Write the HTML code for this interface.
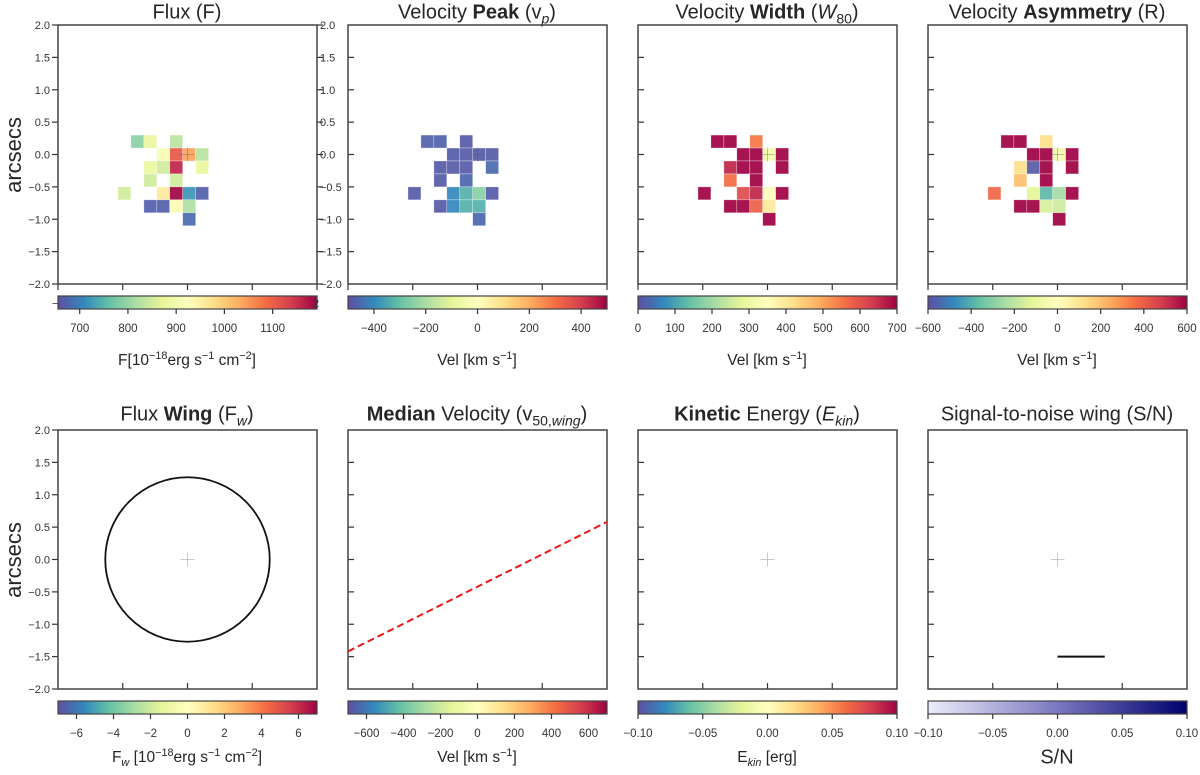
<!DOCTYPE html>
<html><head><meta charset="utf-8">
<style>
body{margin:0;background:#fff;font-family:"Liberation Sans","DejaVu Sans",sans-serif;}
#wrap{position:relative;width:1200px;height:775px;overflow:hidden;}
.t{position:absolute;white-space:nowrap;color:#262626;}
.title{font-size:20px;transform:translate(-50%,-50%);}
.cbl{font-size:15.5px;transform:translate(-50%,-50%);}
sub,sup{font-size:70%;line-height:0;}
svg{position:absolute;left:0;top:0;}
svg text{font-family:"Liberation Sans","DejaVu Sans",sans-serif;}
</style></head><body>
<div id="wrap">
<svg id="svg" width="1200" height="775">
<defs>
<linearGradient id="spec" x1="0" x2="1" y1="0" y2="0">
<stop offset="0" stop-color="#5e4fa2"/><stop offset="0.1" stop-color="#3288bd"/><stop offset="0.2" stop-color="#66c2a5"/><stop offset="0.3" stop-color="#abdda4"/><stop offset="0.4" stop-color="#e6f598"/><stop offset="0.5" stop-color="#ffffbf"/><stop offset="0.6" stop-color="#fee08b"/><stop offset="0.7" stop-color="#fdae61"/><stop offset="0.8" stop-color="#f46d43"/><stop offset="0.9" stop-color="#d53e4f"/><stop offset="1" stop-color="#9e0142"/>
</linearGradient>
<linearGradient id="purp" x1="0" x2="1" y1="0" y2="0">
<stop offset="0" stop-color="#ececfa"/><stop offset="0.5" stop-color="#7a78c0"/><stop offset="1" stop-color="#00006e"/>
</linearGradient>
</defs>
</svg>
<div class="t title" style="left:187px;top:13px">Flux (F)</div>
<div class="t title" style="left:477px;top:13px">Velocity <b>Peak</b> (v<sub><i>p</i></sub>)</div>
<div class="t title" style="left:767px;top:13px">Velocity <b>Width</b> (<i>W</i><sub>80</sub>)</div>
<div class="t title" style="left:1057px;top:13px">Velocity <b>Asymmetry</b> (R)</div>
<div class="t title" style="left:187px;top:415px">Flux <b>Wing</b> (F<sub><i>w</i></sub>)</div>
<div class="t title" style="left:477px;top:415px"><b>Median</b> Velocity (v<sub>50,<i>wing</i></sub>)</div>
<div class="t title" style="left:767px;top:415px"><b>Kinetic</b> Energy (<i>E<sub>kin</sub></i>)</div>
<div class="t title" style="left:1057px;top:415px">Signal-to-noise wing (S/N)</div>
<div class="t cbl" style="left:187px;top:361px">F[10<sup>−18</sup>erg s<sup>−1</sup> cm<sup>−2</sup>]</div>
<div class="t cbl" style="left:477px;top:361px">Vel [km s<sup>−1</sup>]</div>
<div class="t cbl" style="left:767px;top:361px">Vel [km s<sup>−1</sup>]</div>
<div class="t cbl" style="left:1057px;top:361px">Vel [km s<sup>−1</sup>]</div>
<div class="t cbl" style="left:187px;top:758px">F<sub><i>w</i></sub> [10<sup>−18</sup>erg s<sup>−1</sup> cm<sup>−2</sup>]</div>
<div class="t cbl" style="left:477px;top:758px">Vel [km s<sup>−1</sup>]</div>
<div class="t cbl" style="left:767px;top:758px">E<sub><i>kin</i></sub> [erg]</div>
<div class="t cbl" style="left:1057px;top:758px;font-size:20px">S/N</div>
<div class="t" style="left:14px;top:155px;font-size:22px;transform:translate(-50%,-50%) rotate(-90deg)">arcsecs</div>
<div class="t" style="left:14px;top:560px;font-size:22px;transform:translate(-50%,-50%) rotate(-90deg)">arcsecs</div>
</div>
<script>
// ---- data ----
const fluxCols = [-4,-3,-1, -2,-1,0,1, -3,-2,-1,1, -3,-1, -5,-2,-1,0,1, -3,-2,-1,0, 0];
const fluxRows = [1,1,1, 0,0,0,0, -1,-1,-1,-1, -2,-2, -3,-3,-3,-3,-3, -4,-4,-4,-4, -5];
const fluxValues = [790,880,830, 910,1110,1040,830, 880,850,1160,880, 850,850, 850,960,1190,720,670, 670,670,910,820, 680];
const vpCols = [-4,-3,-1, -2,-1,0,1, -3,-2,-1,1, -3,-1, -5,-2,-1,0,1, -3,-2,-1,0, 0];
const vpRows = [1,1,1, 0,0,0,0, -1,-1,-1,-1, -2,-2, -3,-3,-3,-3,-3, -4,-4,-4,-4, -5];
const vpValues = [-465,-465,-480, -480,-480,-480,-480, -480,-480,-480,-455, -480,-460, -480,-400,-330,-250,-480, -480,-400,-330,-330, -460];
const w80Cols = [-4,-3,-1, -2,-1,0,1, -3,-2,-1,1, -3,-1, -5,-2,-1,0,1, -3,-2,-1,0, 0];
const w80Rows = [1,1,1, 0,0,0,0, -1,-1,-1,-1, -2,-2, -3,-3,-3,-3,-3, -4,-4,-4,-4, -5];
const w80Values = [700,700,550, 700,700,320,700, 660,700,700,700, 560,700, 700,610,660,340,700, 700,700,580,400, 700];
const rCols = [-4,-3,-1, -2,-1,0,1, -3,-2,-1,1, -3,-1, -5,-2,-1,0,1, -3,-2,-1,0, 0];
const rRows = [1,1,1, 0,0,0,0, -1,-1,-1,-1, -2,-2, -3,-3,-3,-3,-3, -4,-4,-4,-4, -5];
const rValues = [600,600,120, 600,600,-60,600, 120,-580,600,600, 200,600, 380,-120,-380,-250,600, 600,600,-150,-170, 600];
const yTicks = [2.0,1.5,1.0,0.5,0.0,-0.5,-1.0,-1.5,-2.0];
const xTicks = [-1,0,1];
const fluxCbTicks = [700,800,900,1000,1100];
const vpCbTicks = [-400,-200,0,200,400];
const w80CbTicks = [0,100,200,300,400,500,600,700];
const rCbTicks = [-600,-400,-200,0,200,400,600];
const fwCbTicks = [-6,-4,-2,0,2,4,6];
const v50CbTicks = [-600,-400,-200,0,200,400,600];
const ekinCbTicks = [-0.10,-0.05,0.00,0.05,0.10];
const snCbTicks = [-0.10,-0.05,0.00,0.05,0.10];
const circleRadius = [1.27];
const dashLineX = [-2, 2];
const dashLineY = [-1.42, 0.58];
const snLineX = [0, 0.73];
const snLineY = [-1.5, -1.5];

// ---- rendering ----
const NS='http://www.w3.org/2000/svg';
const svg=document.getElementById('svg');
const lefts=[58,348,638,928], W=259, H=259, tops=[25,430];
const specStops=[[94,79,162],[50,136,189],[102,194,165],[171,221,164],[230,245,152],[255,255,191],[254,224,139],[253,174,97],[244,109,67],[213,62,79],[158,1,66]];
function spectral(t){t=Math.max(0,Math.min(1,t));const p=t*10,i=Math.min(9,Math.floor(p)),f=p-i;const a=specStops[i],b=specStops[i+1];return 'rgb('+a.map((v,k)=>Math.round(v+(b[k]-v)*f)).join(',')+')';}
function el(tag,attrs,parent){const e=document.createElementNS(NS,tag);for(const k in attrs)e.setAttribute(k,attrs[k]);(parent||svg).appendChild(e);return e;}
function xs(p,v){return lefts[p%4]+(v+2)/4*W;}
function ys(row,v){return tops[row]+(2-v)/4*H;}
function fmt(v,d){return (v<0?'−':'')+Math.abs(v).toFixed(d);}

function axes(idx,row){
  const L=lefts[idx],T=tops[row];
  for(const t of yTicks){
    const y=ys(row,t);
    let tk;
    if(idx===0){tk=el('line',{x1:L-6,x2:L,y1:y,y2:y,stroke:'#333','stroke-width':1.2});
      const tx=el('text',{x:L-8,y:y+4,'font-size':11,'text-anchor':'end',fill:'#333'});tx.textContent=fmt(t,1);
      
      
      if(row===0){el('line',{x1:L+W,x2:L+W+6,y1:y,y2:y,stroke:'#333','stroke-width':1.2});
        const t2=el('text',{x:L+W+3,y:y+4,'font-size':11,fill:'#333'});t2.textContent=fmt(t,1);
        
        }
    } else if(t<2 && t>-2){tk=el('line',{x1:L,x2:L+6,y1:y,y2:y,stroke:'#333','stroke-width':1.2});}
    if(tk){
      }
  }
  for(const t of xTicks){const x=xs(idx,t);
    const tk=row===0?el('line',{x1:x,x2:x,y1:T+H,y2:T+H+6,stroke:'#333','stroke-width':1.2}):el('line',{x1:x,x2:x,y1:T+H-6,y2:T+H,stroke:'#333','stroke-width':1.2});
    
    }
  if(row===0){for(const x of [L,L+W]){el('line',{x1:x,x2:x,y1:T+H,y2:T+H+6,stroke:'#333','stroke-width':1.2});}}
}
function frame(idx,row,name){const r=el('rect',{x:lefts[idx],y:tops[row],width:W,height:H,fill:'none',stroke:'#444','stroke-width':1.5});
  
  }
function cells(idx,cols,rows,vals,vmin,vmax,name){
  for(let i=0;i<vals.length;i++){
    const x0=(cols[i]-0.37)*0.2, y1=rows[i]*0.2+0.1;
    const r=el('rect',{x:xs(idx,x0),y:ys(0,y1),width:W*0.05,height:H*0.05,fill:spectral((vals[i]-vmin)/(vmax-vmin)),'fill-opacity':0.92,stroke:'rgba(255,255,255,0.5)','stroke-width':0.6});
    
    
  }
}
function cross(idx,row,col,op){const x=xs(idx,0),y=ys(row,0);
  el('line',{x1:x-7,x2:x+7,y1:y,y2:y,stroke:col,'stroke-opacity':op,'stroke-width':1});
  const c=el('line',{x1:x,x2:x,y1:y-7,y2:y+7,stroke:col,'stroke-opacity':op,'stroke-width':1});
  
  }
function colorbar(idx,row,vmin,vmax,ticks,dec,grad,name){
  const L=lefts[idx],y=row===0?296:701;
  const r=el('rect',{x:L,y:y,width:W,height:13,fill:'url(#'+grad+')',stroke:'#444','stroke-width':1.2});
  
  
  for(const t of ticks){const x=L+(t-vmin)/(vmax-vmin)*W;
    el('line',{x1:x,x2:x,y1:y+13,y2:y+18,stroke:'#333','stroke-width':1.2});
    const tx=el('text',{x:x,y:y+36,'font-size':11.5,'text-anchor':'middle',fill:'#333'});tx.textContent=dec>0?fmt(t,dec):(t<0?'−'+Math.abs(t):String(t));
    
    }
}
// top row
cells(0,fluxCols,fluxRows,fluxValues,655,1192,'flux');
cells(1,vpCols,vpRows,vpValues,-500,500,'vp');
cells(2,w80Cols,w80Rows,w80Values,0,700,'w80');
cells(3,rCols,rRows,rValues,-600,600,'r');
for(let i=0;i<4;i++){cross(i,0,'#555',0.35);}
const names=['flux-panel','velocity-peak-panel','velocity-width-panel','velocity-asymmetry-panel','flux-wing-panel','median-velocity-panel','kinetic-energy-panel','signal-to-noise-panel'];
for(let i=0;i<4;i++){axes(i,0);frame(i,0,names[i]);axes(i,1);frame(i,1,names[4+i]);}
colorbar(0,0,655,1192,fluxCbTicks,0,'spec','flux-colorbar');
const m1=el('text',{x:52,y:307,'font-size':11,fill:'#333'});m1.textContent='−';
const m2=el('text',{x:313,y:307,'font-size':11,fill:'#333'});m2.textContent='2';
colorbar(1,0,-500,500,vpCbTicks,0,'spec','vp-colorbar');
colorbar(2,0,0,700,w80CbTicks,0,'spec','w80-colorbar');
colorbar(3,0,-600,600,rCbTicks,0,'spec','r-colorbar');
// bottom row
cross(0,1,'#bbb',0.8);cross(2,1,'#bbb',0.8);cross(3,1,'#bbb',0.8);
const circ=el('circle',{cx:xs(0,0),cy:ys(1,0),r:circleRadius[0]/4*W,fill:'none',stroke:'#111','stroke-width':1.8});


const dl=el('line',{x1:xs(1,dashLineX[0]),y1:ys(1,dashLineY[0]),x2:xs(1,dashLineX[1]),y2:ys(1,dashLineY[1]),stroke:'#e8191a','stroke-width':2,'stroke-dasharray':'7,4'});


const sl=el('line',{x1:xs(3,snLineX[0]),y1:ys(1,snLineY[0]),x2:xs(3,snLineX[1]),y2:ys(1,snLineY[1]),stroke:'#111','stroke-width':2});


colorbar(0,1,-7,7,fwCbTicks,0,'spec','fw-colorbar');
colorbar(1,1,-700,700,v50CbTicks,0,'spec','v50-colorbar');
colorbar(2,1,-0.1,0.1,ekinCbTicks,2,'spec','ekin-colorbar');
colorbar(3,1,-0.1,0.1,snCbTicks,2,'purp','sn-colorbar');
</script>
</body></html>
